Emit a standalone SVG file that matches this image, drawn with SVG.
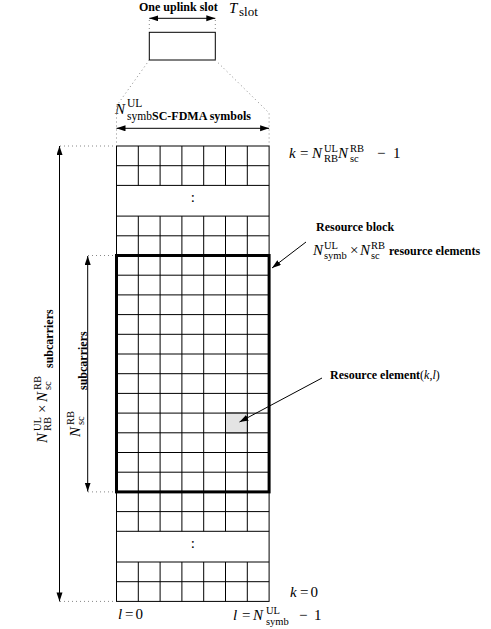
<svg xmlns="http://www.w3.org/2000/svg" width="491" height="629" viewBox="0 0 491 629">
<style>
.lbl{font-family:"Liberation Serif","Times New Roman",serif;font-weight:bold;font-size:12px;fill:#000}
.m{font-family:"Liberation Serif","Times New Roman",serif;font-size:15px;fill:#000}
.i{font-style:italic}
.s{font-size:10.5px}
.g{stroke:#000;stroke-width:1;fill:none}
.dot{stroke:#888;stroke-width:1;stroke-dasharray:1 3;fill:none}
.arr{stroke:#000;stroke-width:1;fill:none;marker-start:url(#ah);marker-end:url(#ah)}
.arr1{stroke:#000;stroke-width:1;fill:none;marker-end:url(#ah)}
</style>
<defs>
<marker id="ah" markerUnits="userSpaceOnUse" markerWidth="10" markerHeight="7" refX="9" refY="3" orient="auto-start-reverse">
<path d="M0,0 L9,3 L0,6 z" fill="#000"/>
</marker>
</defs>
<rect width="491" height="629" fill="#fff"/>

<g id="slot">
<text class="lbl" x="139" y="10.5">One uplink slot</text>
<text class="m" x="229" y="13" font-size="16"><tspan class="i">T</tspan><tspan x="239" y="16" font-size="13">slot</tspan></text>
<rect x="149.3" y="32.3" width="66" height="27.7" class="g"/>
</g>

<g id="symbols-label">
<text class="m" x="115" y="114"><tspan class="i">N</tspan><tspan x="127" y="107" font-size="11.5">UL</tspan><tspan x="127" y="120" font-size="11.5">symb</tspan></text>
<text class="lbl" x="152" y="120" font-size="13">SC-FDMA symbols</text>
</g>

<g id="grid">
<rect x="116.5" y="146" width="152.6" height="455.4" class="g"/>
<path class="g" d="M138.3,146V185.4M160.1,146V185.4M181.9,146V185.4M203.7,146V185.4M225.5,146V185.4M247.3,146V185.4
M138.3,216.1V531.3M160.1,216.1V531.3M181.9,216.1V531.3M203.7,216.1V531.3M225.5,216.1V531.3M247.3,216.1V531.3
M138.3,562V601.4M160.1,562V601.4M181.9,562V601.4M203.7,562V601.4M225.5,562V601.4M247.3,562V601.4
M116.5,165.7H269.1M116.5,185.4H269.1M116.5,216.1H269.1M116.5,235.8H269.1
M116.5,275.2H269.1M116.5,294.9H269.1M116.5,314.6H269.1M116.5,334.3H269.1M116.5,354H269.1M116.5,373.7H269.1
M116.5,393.4H269.1M116.5,413.1H269.1M116.5,432.8H269.1M116.5,452.5H269.1M116.5,472.2H269.1
M116.5,511.6H269.1M116.5,531.3H269.1M116.5,562H269.1M116.5,581.7H269.1"/>
<text class="m" x="192.8" y="202" text-anchor="middle" font-size="11">:</text>
<text class="m" x="192.8" y="547.5" text-anchor="middle" font-size="11">:</text>
</g>

<g id="resource-element">
<rect x="225.5" y="413.1" width="21.8" height="19.7" fill="#e4e4e4" stroke="#000" stroke-width="1"/>
</g>

<g id="resource-block">
<rect x="116.5" y="255.5" width="152.6" height="236.4" fill="none" stroke="#000" stroke-width="3"/>
</g>

<g id="connectors">
<path class="arr" d="M149.3,18.3H215.3"/>
<path class="dot" d="M149.3,20V32M215.3,20V32"/>
<path class="dot" d="M149.3,60L116.5,106V146M215.3,60L269.1,113V146"/>
<path class="arr" d="M116.5,128.3H269.1"/>
<path class="dot" d="M60,146H116M60,601.4H116M88,255.5H116M88,491.9H116"/>
<path class="arr" d="M59.5,146V601.4"/>
<path class="arr" d="M87.7,256V491.5"/>
<path class="arr1" d="M306,242L272,268"/>
<path class="arr1" d="M322,378L239.5,422"/>
</g>

<g id="k-top">
<text class="m" y="158"><tspan class="i" x="289">k</tspan><tspan x="300">=</tspan><tspan class="i" x="312">N</tspan><tspan class="s" x="324" y="152">UL</tspan><tspan class="s" x="324" y="162">RB</tspan><tspan class="i" x="338" y="158">N</tspan><tspan class="s" x="350" y="152">RB</tspan><tspan class="s" x="350" y="162">sc</tspan><tspan x="377" y="158">−</tspan><tspan x="393">1</tspan></text>
</g>

<g id="rb-label">
<text class="lbl" x="316" y="231">Resource block</text>
<text class="m" y="255" font-size="14"><tspan class="i" x="313">N</tspan><tspan class="s" x="324" y="249" font-size="10">UL</tspan><tspan class="s" x="324" y="259" font-size="10">symb</tspan><tspan x="350" y="255">×</tspan><tspan class="i" x="360">N</tspan><tspan class="s" x="371" y="249" font-size="10">RB</tspan><tspan class="s" x="371" y="259" font-size="10">sc</tspan></text>
<text class="lbl" x="389" y="255">resource elements</text>
</g>

<g id="re-label">
<text class="lbl" x="330" y="379">Resource element<tspan font-weight="normal">(</tspan><tspan font-weight="normal" font-style="italic">k</tspan><tspan font-weight="normal">,</tspan><tspan font-weight="normal" font-style="italic">l</tspan><tspan font-weight="normal">)</tspan></text>
</g>

<g id="outer-label">
<text class="m" transform="translate(47,443) rotate(-90)"><tspan class="i" x="0" y="0">N</tspan><tspan class="s" x="12" y="-6">UL</tspan><tspan class="s" x="12" y="3.5">RB</tspan><tspan x="30" y="0">×</tspan><tspan class="i" x="41" y="0">N</tspan><tspan class="s" x="53" y="-6">RB</tspan><tspan class="s" x="53" y="3.5">sc</tspan></text>
<text class="lbl" transform="translate(53,368) rotate(-90)" font-size="10">subcarriers</text>
</g>

<g id="inner-label">
<text class="m" transform="translate(80,437) rotate(-90)"><tspan class="i" x="0" y="0">N</tspan><tspan class="s" x="12" y="-6">RB</tspan><tspan class="s" x="12" y="3.5">sc</tspan></text>
<text class="lbl" transform="translate(86.5,390) rotate(-90)" font-size="11.5">subcarriers</text>
</g>

<g id="bottom-labels">
<text class="m" y="597"><tspan class="i" x="290">k</tspan><tspan x="300">=</tspan><tspan x="310.5">0</tspan></text>
<text class="m" y="619"><tspan class="i" x="118">l</tspan><tspan x="125">=</tspan><tspan x="135.5">0</tspan></text>
<text class="m" y="620"><tspan class="i" x="233">l</tspan><tspan x="242">=</tspan><tspan class="i" x="253">N</tspan><tspan class="s" x="266" y="614">UL</tspan><tspan class="s" x="266" y="624.5">symb</tspan><tspan x="299" y="620">−</tspan><tspan x="314">1</tspan></text>
</g>
</svg>
